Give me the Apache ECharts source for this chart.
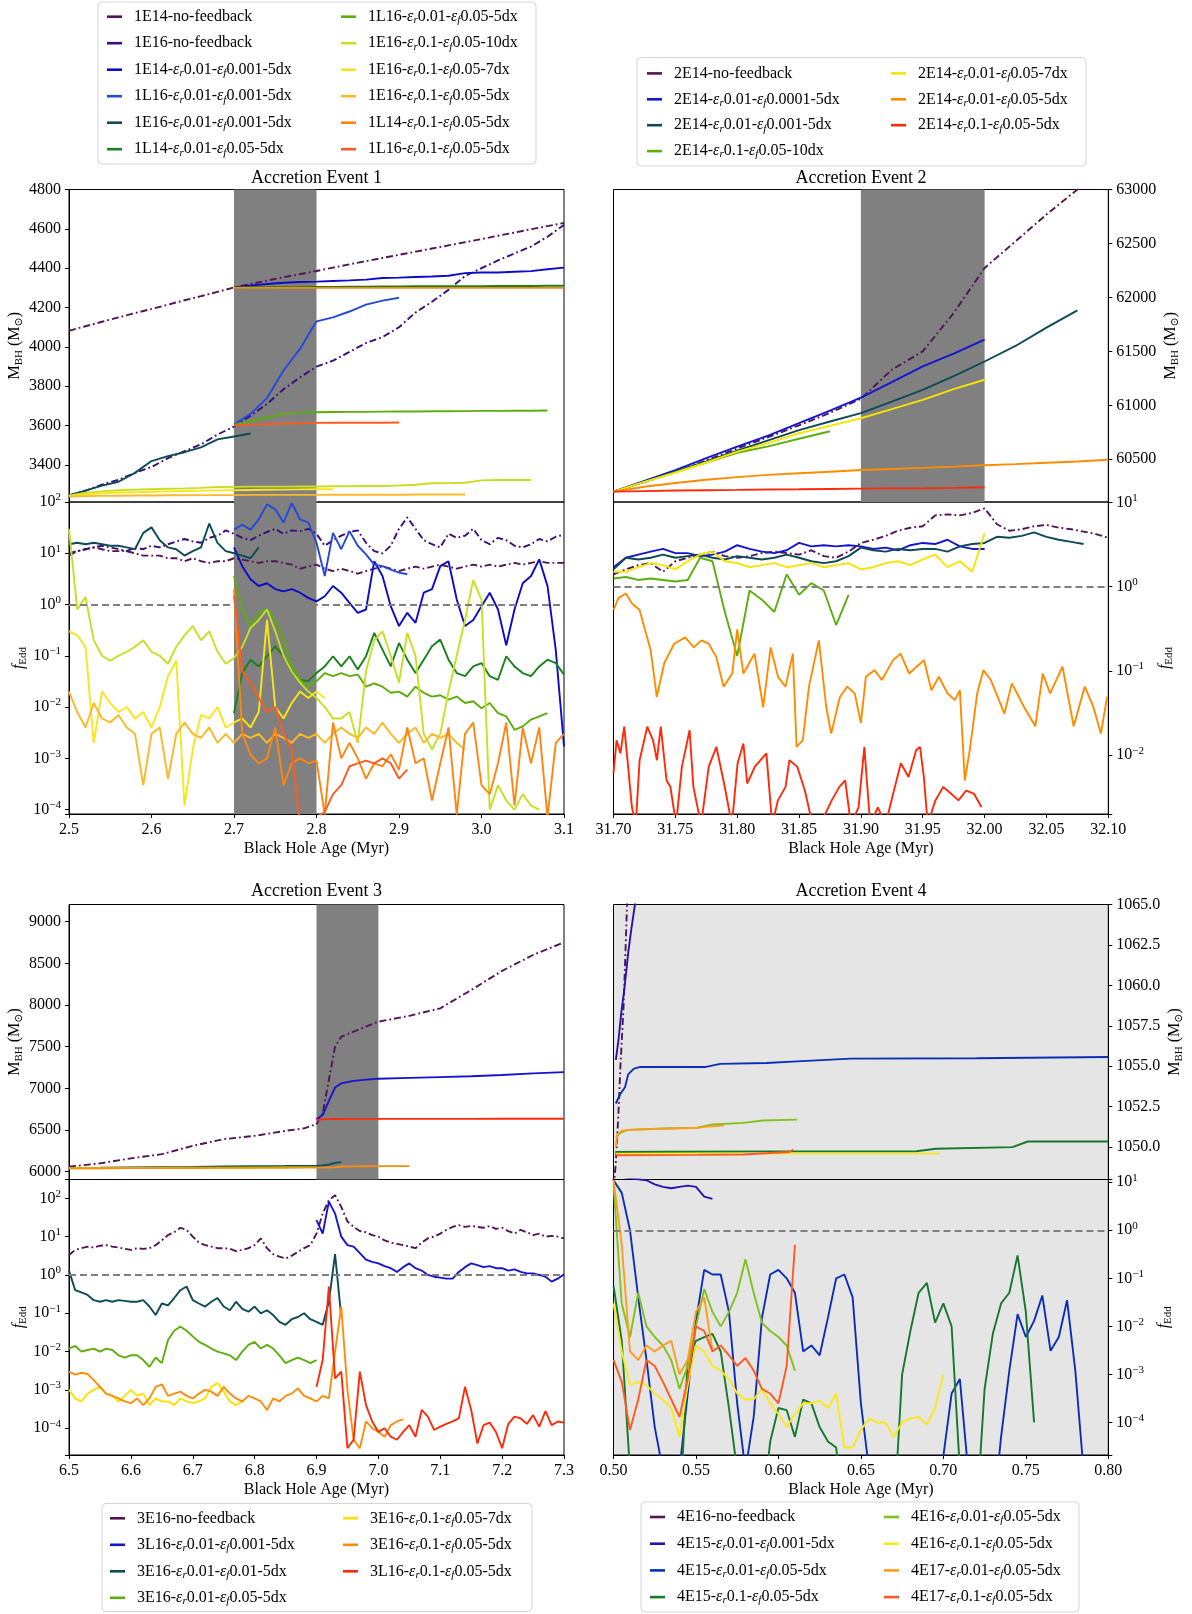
<!DOCTYPE html>
<html><head><meta charset="utf-8">
<script src="https://cdn.jsdelivr.net/npm/echarts@6/dist/echarts.min.js"></script>
<style>html,body{margin:0;padding:0;background:#fff}#c{width:1192px;height:1614px}</style>
</head><body><div id="c"></div>
<script>
const FONT = 'Liberation Serif, DejaVu Serif, serif';

// ---------------- Panel 1 : Accretion Event 1 ----------------
const P1_MX = [2.50,2.52,2.54,2.56,2.58,2.60,2.62,2.64,2.66,2.68,2.70,2.72,2.74,2.76,2.78,2.80,2.82,2.84,2.86,2.88,2.90,2.92,2.94,2.96,2.98,3.00,3.02,3.04,3.06,3.08,3.10];
const P1_FX = [2.50,2.51,2.52,2.53,2.54,2.55,2.56,2.57,2.58,2.59,2.60,2.61,2.62,2.63,2.64,2.65,2.66,2.67,2.68,2.69,2.70,2.71,2.72,2.73,2.74,2.75,2.76,2.77,2.78,2.79,2.80,2.81,2.82,2.83,2.84,2.85,2.86,2.87,2.88,2.89,2.90,2.91,2.92,2.93,2.94,2.95,2.96,2.97,2.98,2.99,3.00,3.01,3.02,3.03,3.04,3.05,3.06,3.07,3.08,3.09,3.10];
const P1_XTICKS = [2.5,2.6,2.7,2.8,2.9,3.0,3.1];
const P1_MTICKS = [3400,3600,3800,4000,4200,4400,4600,4800];
const P1_SPAN = [2.7, 2.8];

const M1_E14_NOFB = [4082,4105,4128,4150,4172,4193,4215,4237,4258,4280,4302,4320,4337,4354,4370,4386,4403,4420,4436,4452,4468,4484,4500,4516,4532,4548,4565,4581,4598,4614,4630];
const M1_E16_NOFB = [3245,3270,3300,3325,3360,3390,3435,3470,3505,3555,3595,3650,3710,3785,3845,3900,3930,3975,4020,4050,4100,4175,4230,4290,4360,4400,4440,4475,4510,4560,4620];
const M1_E14_001 = [4302,4312,4320,4326,4330,4332,4335,4338,4342,4350,4352,4355,4358,4362,4375,4378,4378,4382,4385,4395,4403];
const M1_L16_001 = [3605,3660,3740,3880,3990,4130,4150,4180,4215,4235,4250];
const M1_E16_001 = [3245,3270,3295,3315,3360,3420,3445,3465,3490,3530,3545,3560];
const M1_L14_005 = [4302,4303,4303,4304,4304,4305,4305,4306,4306,4307,4307,4308,4308,4308,4309,4309,4310,4310,4310,4311,4311];
const M1_L16_005 = [3605,3622,3640,3660,3666,3668,3669,3670,3670,3671,3672,3672,3673,3673,3674,3675,3675,3676,3676,3677];
const M1_E16_10DX = [3245,3258,3266,3272,3275,3277,3279,3281,3284,3288,3289,3290,3290,3290,3291,3291,3292,3292,3293,3293,3296,3300,3307,3308,3310,3322,3324,3324,3324];
const M1_E16_7DX = [3242,3250,3256,3260,3262,3264,3266,3268,3270,3271,3272,3273,3274,3275,3276,3277,3277];
const M1_E16_5DX = [3240,3242,3243,3244,3245,3245,3246,3246,3247,3247,3247,3248,3248,3248,3248,3248,3249,3249,3249,3249,3249,3250,3250,3250,3250];
const M1_L14_01 = [4300,4300,4300,4300,4300,4300,4300,4300,4300,4300,4300,4300,4300,4300,4300,4300,4300,4300,4300,4300,4300];
const M1_L16_01 = [3600,3605,3608,3610,3612,3614,3615,3615,3615,3615,3616];

const F1_E14_NOFB = [10,11,12,13,12,11,11,11,10,9,9,9,8,8,7,8,7,6.5,7,7,8,7.5,7,6.5,7,7,6.5,6,5,5.5,6,5,4.5,5,4.5,4,4.5,5,5.5,5,4.5,5,5.5,5,5.5,6,5.5,5,5.5,6,5.5,6,5.5,6,6.5,6,6.5,7,6.5,6.5,6.5];
const F1_E16_NOFB = [9,11,12,13,14,13,12,11,13,12,14,13,15,17,19,17,16,20,22,28,24,20,18,22,26,30,24,28,27,30,24,14,18,22,26,28,16,11,10,14,30,50,30,18,15,13,24,20,22,30,18,15,20,18,14,13,15,19,17,21,23];
const F1_E14_001 = [13,5.6,3.1,2.3,2.6,2,1.8,2,1.7,1.35,1.15,1.45,2.3,1.7,1.08,0.69,0.8,7,3.6,0.93,0.38,0.69,0.44,1.7,2,5.6,7,1.25,0.38,0.5,0.93,1.7,0.8,0.16,0.8,2.6,3.6,7.6,2.3,0.13,0.0017];
const F1_L16_001 = [29,36,29,46,90,72,40,95,46,40,16,3.6,25,12,27,14,9.5,6,5.6,4.8,4.2,3.9];
const F1_E16_001 = [15,16,15,16,15,14,14,13,12,25,32,18,13,12,9,11,13,38,16,11,10,9,8,13];
const F1_L14_005 = [0.0076,0.046,0.084,0.062,0.098,0.153,0.098,0.054,0.034,0.032,0.046,0.062,0.098,0.062,0.098,0.054,0.098,0.28,0.132,0.062,0.178,0.084,0.046,0.084,0.153,0.207,0.084,0.046,0.04,0.062,0.072,0.04,0.034,0.098,0.062,0.046,0.04,0.062,0.084,0.072,0.043];
const F1_L16_005 = [3.58,0.8,0.38,0.69,0.8,0.51,0.207,0.062,0.034,0.025,0.032,0.046,0.04,0.046,0.04,0.043,0.025,0.029,0.025,0.019,0.020,0.016,0.025,0.019,0.016,0.017,0.014,0.016,0.012,0.013,0.0095,0.012,0.0076,0.0066,0.0036,0.0042,0.0057,0.0066,0.0076];
const F1_E16_10DX = [30,0.8,1.4,0.2,0.1,0.08,0.1,0.12,0.15,0.2,0.12,0.1,0.07,0.15,0.25,0.38,0.2,0.3,0.12,0.07,0.09,0.15,0.35,0.5,0.8,0.3,0.1,0.05,0.03,0.02,0.015,0.01,0.006,0.006,0.008,0.002,0.05,0.2,0.3,0.1,0.03,0.28,0.1,0.003,0.0015,0.003,0.02,0.1,0.5,3,1.25,0.0001,0.0003,0.00015,0.0001,0.0002,0.00012,0.0001];
const F1_E16_7DX = [0.3,0.25,0.15,0.002,0.02,0.012,0.008,0.01,0.006,0.008,0.004,0.01,0.04,0.08,0.00012,0.0015,0.007,0.006,0.01,0.004,0.005,0.006,0.004,0.008,0.5,0.01,0.006,0.012,0.02,0.015,0.02,0.015];
const F1_E16_5DX = [0.02,0.008,0.004,0.012,0.006,0.005,0.007,0.004,0.003,0.0003,0.003,0.004,0.0004,0.003,0.005,0.003,0.0025,0.004,0.002,0.003,0.002,0.003,0.0025,0.003,0.002,0.003,0.0025,0.002,0.003,0.0025,0.003,0.002,0.003,0.004,0.003,0.0025,0.004,0.003,0.005,0.003,0.002,0.003,0.004,0.002,0.003,0.0025,0.003,0.002,0.0015];
const F1_L14_01 = [2,0.003,0.0012,0.0008,0.001,0.004,0.0003,0.0008,0.001,0.0008,0.0009,0.00008,0.005,0.001,0.002,0.001,0.0004,0.0008,0.0007,0.0012,0.0006,0.004,0.0008,0.001,0.00015,0.0008,0.004,0.00008,0.003,0.005,0.0003,0.0002,0.0008,0.005,0.00012,0.004,0.0008,0.004,0.00007,0.002,0.003];
const F1_L16_01 = [1.5,0.05,0.03,0.015,0.008,0.01,0.003,0.0015,0.00005,0.00006,0.00007,0.00009,0.0002,0.0003,0.0007,0.0008,0.0009,0.0008,0.001,0.0008,0.0004,0.0006];

// ---------------- Panel 2 : Accretion Event 2 ----------------
const P2_MX = [31.700,31.725,31.750,31.775,31.800,31.825,31.850,31.875,31.900,31.925,31.950,31.975,32.000,32.025,32.050,32.075,32.100];
const P2_FX = [31.70,31.71,31.72,31.73,31.74,31.75,31.76,31.77,31.78,31.79,31.80,31.81,31.82,31.83,31.84,31.85,31.86,31.87,31.88,31.89,31.90,31.91,31.92,31.93,31.94,31.95,31.96,31.97,31.98,31.99,32.00,32.01,32.02,32.03,32.04,32.05,32.06,32.07,32.08,32.09,32.10];
const P2_XTICKS = [31.70,31.75,31.80,31.85,31.90,31.95,32.00,32.05,32.10];
const P2_MTICKS = [60500,61000,61500,62000,62500,63000];
const P2_SPAN = [31.90, 32.00];

const M2_NOFB = [60200,60290,60380,60490,60600,60705,60815,60930,61060,61330,61500,61855,62273,62520,62768,63000,63250];
const M2_0001 = [60200,60300,60400,60510,60617,60720,60834,60950,61072,61215,61360,61480,61608];
const M2_001 = [60200,60290,60385,60480,60580,60675,60770,60850,60927,61035,61144,61270,61406,61550,61720,61880];
const M2_10DX = [60200,60290,60380,60470,60560,60620,60690,60760];
const M2_7DX = [60200,60290,60375,60470,60571,60650,60741,60810,60880,60965,61051,61150,61237];
const M2_5DX = [60200,60245,60280,60310,60335,60355,60370,60385,60400,60410,60420,60432,60445,60455,60468,60480,60495];
const M2_01 = [60200,60205,60210,60213,60216,60220,60222,60225,60228,60230,60232,60235,60240];

const F2_NOFB = [1.4,1.6,1.8,1.9,1.5,2.0,2.2,2.4,2.6,2.3,2.2,2.3,2.5,2.6,2.5,2.4,2.7,2.3,2.2,2.6,3.3,3.6,4.0,4.6,5.0,5.2,7.0,7.2,7.0,7.5,8.5,5.5,4.6,4.8,5.2,5.4,5.0,4.8,4.5,4.2,3.8];
const F2_0001 = [1.7,2.2,2.4,2.6,2.8,2.5,2.5,2.3,2.4,2.6,3.1,2.8,2.6,2.5,2.7,3.3,3.0,3.1,3.0,3.1,3.0,2.8,2.9,2.7,3.1,3.3,3.2,3.6,3.0,2.8,2.8];
const F2_001 = [1.6,2.2,2.1,2.2,2.4,2.2,2.3,2.4,2.2,2.1,2.3,2.2,2.1,2.2,2.4,2.2,2.0,1.9,2.0,2.3,2.9,2.7,2.6,2.8,2.7,2.8,2.8,2.6,3.0,3.2,3.3,3.9,3.8,4.0,4.4,3.9,3.6,3.4,3.2];
const F2_10DX = [1.25,1.3,1.2,1.25,1.2,1.15,1.2,2.2,2.0,0.5,0.15,0.9,0.7,0.5,1.4,0.8,1.1,0.9,0.35,0.8];
const F2_7DX = [1.5,1.5,1.7,1.9,1.8,1.6,2.0,2.4,2.6,2.0,1.9,1.7,1.8,1.9,1.7,1.8,1.9,1.7,1.8,1.9,1.6,1.7,1.9,2.0,1.8,2.1,2.4,1.7,2.0,1.5,4.3];
const F2_5DX_X = [31.700,31.704,31.710,31.715,31.721,31.730,31.735,31.741,31.749,31.758,31.765,31.771,31.777,31.783,31.789,31.796,31.800,31.805,31.814,31.821,31.827,31.833,31.839,31.845,31.848,31.853,31.858,31.866,31.872,31.876,31.883,31.889,31.895,31.900,31.904,31.911,31.917,31.926,31.932,31.939,31.945,31.951,31.957,31.963,31.970,31.976,31.980,31.984,31.988,31.994,31.999,32.005,32.016,32.022,32.032,32.041,32.047,32.053,32.063,32.072,32.081,32.088,32.094,32.099];
const F2_5DX = [0.53,0.73,0.83,0.63,0.53,0.177,0.049,0.123,0.21,0.25,0.19,0.23,0.21,0.147,0.065,0.093,0.31,0.093,0.16,0.037,0.19,0.085,0.065,0.16,0.0125,0.015,0.065,0.23,0.037,0.018,0.049,0.065,0.054,0.024,0.085,0.102,0.078,0.134,0.16,0.093,0.112,0.134,0.059,0.085,0.054,0.045,0.059,0.005,0.0115,0.054,0.102,0.078,0.031,0.071,0.037,0.022,0.093,0.054,0.112,0.022,0.065,0.037,0.018,0.049];
const F2_01_X = [31.7000,31.7025,31.7056,31.7087,31.7118,31.7149,31.7180,31.7211,31.7273,31.7320,31.7351,31.7382,31.7429,31.7460,31.7506,31.7553,31.7615,31.7646,31.7708,31.7770,31.7832,31.7894,31.7957,31.8003,31.8050,31.8081,31.8143,31.8236,31.8283,31.8329,31.8391,31.8422,31.8485,31.8547,31.8609,31.8671,31.8764,31.8826,31.8873,31.8919,31.8981,31.9028,31.9075,31.9137,31.9199,31.9261,31.9323,31.9385,31.9447,31.9478,31.9509,31.9540,31.9602,31.9665,31.9727,31.9789,31.9851,31.9913,31.9975];
const F2_01 = [0.0061,0.015,0.0105,0.0218,0.0073,0.0024,0.0015,0.0087,0.0218,0.015,0.0087,0.0218,0.005,0.0042,0.0015,0.0073,0.0198,0.0042,0.0015,0.0073,0.0125,0.0046,0.0015,0.008,0.0137,0.0046,0.0073,0.0105,0.0015,0.0029,0.0042,0.0087,0.0073,0.0038,0.0015,0.0015,0.0029,0.0042,0.005,0.0015,0.0024,0.0125,0.0015,0.0024,0.0015,0.0035,0.008,0.0055,0.0115,0.0125,0.0055,0.0015,0.0029,0.0042,0.0035,0.0029,0.0038,0.0035,0.0024];

// ---------------- Panel 3 : Accretion Event 3 ----------------
const P3_MX = [6.50,6.55,6.60,6.65,6.70,6.75,6.80,6.85,6.88,6.90,6.91,6.92,6.93,6.94,6.96,6.98,7.00,7.05,7.10,7.15,7.20,7.25,7.30];
const P3_FX = [6.50,6.51,6.52,6.53,6.54,6.55,6.56,6.57,6.58,6.59,6.60,6.61,6.62,6.63,6.64,6.65,6.66,6.67,6.68,6.69,6.70,6.71,6.72,6.73,6.74,6.75,6.76,6.77,6.78,6.79,6.80,6.81,6.82,6.83,6.84,6.85,6.86,6.87,6.88,6.89,6.90,6.91,6.92,6.93,6.94,6.95,6.96,6.97,6.98,6.99,7.00,7.01,7.02,7.03,7.04,7.05,7.06,7.07,7.08,7.09,7.10,7.11,7.12,7.13,7.14,7.15,7.16,7.17,7.18,7.19,7.20,7.21,7.22,7.23,7.24,7.25,7.26,7.27,7.28,7.29,7.30];
const P3_XTICKS = [6.5,6.6,6.7,6.8,6.9,7.0,7.1,7.2,7.3];
const P3_MTICKS = [6000,6500,7000,7500,8000,8500,9000];
const P3_SPAN = [6.9, 7.0];

const M3_NOFB = [6060,6100,6160,6210,6310,6390,6430,6490,6520,6570,6700,7100,7500,7620,7680,7740,7800,7870,7960,8180,8410,8600,8752];
const M3_L16_001 = [6630,6680,6850,7010,7060,7090,7105,7115,7125,7135,7145,7160,7180,7195];
const M3_E16_001 = [6045,6048,6052,6055,6058,6062,6065,6068,6070,6072,6075,6085,6105,6115];
const M3_E16_005 = [6042,6044,6046,6048,6050,6052,6054,6056,6057,6058];
const M3_E16_7DX = [6040,6041,6042,6043,6044,6045,6046];
const M3_E16_5DX = [6040,6041,6042,6043,6044,6045,6046,6047,6048,6048,6049,6050,6052,6062,6064,6065,6066,6066];
const M3_L16_01 = [6620,6628,6630,6632,6632,6633,6633,6633,6634,6634,6634,6635,6635,6635];

const F3_NOFB = [3.3,4.5,5,5.5,5.2,5.8,6,5.5,5.2,4.8,4.5,5,4.8,5,6,8,11,13,17,15,10,7,6,5.5,5,5,4.8,4.2,4.5,5,6,9,5,3.5,3,2.7,3.2,4,5,6,12,40,90,120,60,25,18,14,13,11,10,8,7,6.5,6,5.5,5,7,9,10,12,15,18,20,18,19,18,17,19,16,17,14,12,15,13,11,12,10,10.5,10,9];
const F3_L16_001 = [27,12,82,40,10,6,5.5,3.7,2.5,2.2,2,1.7,1.5,1.2,1.6,2,1.5,1.3,1,0.9,0.85,0.8,0.8,1.2,1.6,2,1.8,1.6,1.7,1.5,1.5,1.3,1.4,1.2,1.1,1.1,1.0,0.9,0.67,0.8,1.05];
const F3_E16_001 = [1.3,0.4,0.35,0.3,0.22,0.2,0.22,0.2,0.22,0.21,0.2,0.2,0.22,0.15,0.09,0.18,0.16,0.25,0.4,0.5,0.22,0.18,0.15,0.2,0.25,0.15,0.12,0.2,0.13,0.11,0.15,0.1,0.12,0.09,0.06,0.05,0.07,0.08,0.1,0.07,0.06,0.05,0.2,3.5,0.08];
const F3_E16_005 = [0.012,0.014,0.01,0.011,0.012,0.01,0.012,0.011,0.008,0.007,0.008,0.008,0.006,0.004,0.007,0.005,0.02,0.035,0.045,0.035,0.025,0.018,0.015,0.012,0.01,0.009,0.008,0.006,0.01,0.015,0.018,0.012,0.015,0.012,0.008,0.005,0.006,0.007,0.006,0.005,0.006];
const F3_E16_7DX = [0.001,0.0006,0.0005,0.0008,0.001,0.0012,0.0008,0.0007,0.0005,0.0007,0.001,0.0007,0.0008,0.0004,0.0006,0.0005,0.0005,0.0004,0.0006,0.0005,0.00045,0.0005,0.0006,0.0012,0.0015,0.0009,0.0005,0.0004,0.0005];
const F3_E16_5DX = [0.003,0.0025,0.0028,0.0026,0.0018,0.0012,0.0008,0.0007,0.0006,0.0005,0.00045,0.0006,0.0004,0.0006,0.0012,0.0014,0.0007,0.0008,0.0009,0.0007,0.0006,0.0008,0.001,0.0009,0.0007,0.0012,0.0008,0.0006,0.0005,0.0007,0.0006,0.0005,0.0003,0.0006,0.0005,0.0007,0.0008,0.0011,0.0007,0.0006,0.0005,0.0007,0.0006,0.01,0.15,0.001,0.00005,0.00003,0.00015,0.0001,0.00008,0.00006,0.00012,0.00015,0.00017];
const F3_L16_01 = [0.0012,0.006,0.5,0.002,0.003,0.00003,0.00005,0.003,0.0004,0.00015,0.00008,0.0001,0.00006,0.00005,0.00008,0.00012,0.00006,0.0003,0.0002,0.00009,0.00011,0.00013,0.00015,0.00018,0.0012,0.0003,0.00004,0.00012,0.00014,0.00008,0.00003,0.00013,0.0002,0.00018,0.00013,0.00022,0.00011,0.00028,0.00012,0.00015,0.00014];

// ---------------- Panel 4 : Accretion Event 4 ----------------
const P4_FX = [0.500,0.505,0.510,0.515,0.520,0.525,0.530,0.535,0.540,0.545,0.550,0.555,0.560,0.565,0.570,0.575,0.580,0.585,0.590,0.595,0.600,0.605,0.610,0.615,0.620,0.625,0.630,0.635,0.640,0.645,0.650,0.655,0.660,0.665,0.670,0.675,0.680,0.685,0.690,0.695,0.700,0.705,0.710,0.715,0.720,0.725,0.730,0.735,0.740,0.745,0.750,0.755,0.760,0.765,0.770,0.775,0.780,0.785,0.790,0.795,0.800];
const P4_XTICKS = [0.50,0.55,0.60,0.65,0.70,0.75,0.80];
const P4_MTICKS = [1050,1052.5,1055,1057.5,1060,1062.5,1065];

const M4_NOFB_X = [0.5000,0.5014,0.5030,0.5042,0.5061,0.5070,0.5082,0.5100];
const M4_NOFB_Y = [1047.5,1049,1052.1,1055,1058.7,1061.3,1065,1069];
const M4_E15_0001_X = [0.5014,0.5030,0.5047,0.5065,0.5089,0.5107,0.5130,0.5150];
const M4_E15_0001_Y = [1055.4,1056.6,1058.3,1059.7,1062,1063.4,1065,1066.5];
const M4_E15_005_X = [0.5014,0.5042,0.5070,0.5089,0.5124,0.5158,0.5554,0.5647,0.5927,0.6113,0.6439,0.7200,0.8000];
const M4_E15_005_Y = [1052.7,1053.3,1053.7,1054.5,1054.85,1054.95,1054.95,1055.15,1055.2,1055.3,1055.47,1055.5,1055.57];
const M4_E15_01_X = [0.5014,0.5300,0.6000,0.6836,0.6953,0.7419,0.7512,0.8000];
const M4_E15_01_Y = [1049.7,1049.72,1049.74,1049.75,1049.9,1050.0,1050.35,1050.35];
const M4_E16_001_X = [0.5014,0.5042,0.5089,0.5300,0.5508,0.5601,0.5787,0.5904,0.6113];
const M4_E16_001_Y = [1050.6,1050.9,1051.07,1051.15,1051.2,1051.4,1051.5,1051.65,1051.7];
const M4_E16_01_X = [0.5014,0.6000,0.6980];
const M4_E16_01_Y = [1049.6,1049.6,1049.6];
const M4_E17_001_X = [0.5014,0.5023,0.5047,0.5089,0.5508,0.5554,0.5670];
const M4_E17_001_Y = [1050.0,1050.8,1051.0,1051.07,1051.2,1051.25,1051.35];
const M4_E17_01_X = [0.5014,0.5508,0.5787,0.6067,0.6090];
const M4_E17_01_Y = [1049.5,1049.52,1049.55,1049.7,1049.85];

const F4_NOFB = [11,200];
const F4_E15_0001 = [14,13,12,11.5,11,9,8,7.5,8,8.5,8,5,4.5];
const F4_E15_005 = [11,6,1,0.04,0.002,0.00008,0.00001,0.00001,0.00001,0.0004,0.013,0.15,0.12,0.12,0.02,0.00025,0.00001,0.00013,0.015,0.12,0.15,0.1,0.05,0.003,0.004,0.0025,0.015,0.1,0.12,0.04,0.00025,0.00001,0.000001,0.000001,0.000001,0.000001,0.000001,0.000001,0.000001,0.000001,0.00002,0.0004,0.0008,0.00001,0.000001,0.000001,0.000001,0.00005,0.0012,0.018,0.006,0.013,0.044,0.0031,0.006,0.035,0.0012,0.00001,0.000001];
const F4_E15_01 = [0.07,0.005,0.00001,0.000001,0.000001,0.000001,0.000001,0.000001,0.000001,0.002,0.005,0.006,0.007,0.003,0.0002,0.00001,0.000001,0.000001,0.000001,0.00004,0.0002,0.00018,0.00005,0.0003,0.00025,0.00008,0.00004,0.00003,0.000001,0.000001,0.000001,0.000001,0.000001,0.000001,0.000001,0.001,0.008,0.05,0.08,0.012,0.03,0.01,0.00001,0.000001,0.000001,0.0005,0.007,0.03,0.05,0.3,0.02,0.0001];
const F4_E16_001 = [9,0.03,0.006,0.05,0.01,0.006,0.004,0.002,0.0005,0.0015,0.01,0.06,0.02,0.01,0.02,0.05,0.25,0.05,0.012,0.008,0.006,0.004,0.0012];
const F4_E16_01 = [0.03,0.003,0.0006,0.0007,0.0006,0.0004,0.0003,0.0002,0.00005,0.0006,0.004,0.003,0.0015,0.0012,0.0008,0.0004,0.0003,0.0003,0.0005,0.00025,0.00015,0.00008,0.00015,0.00025,0.00025,0.00028,0.0002,0.0004,0.00003,0.00003,0.00007,0.00012,0.0001,0.0001,0.00005,0.0001,0.00012,0.00013,0.00009,0.0002,0.001];
const F4_E17_001 = [11,0.5,0.003,0.002,0.004,0.003,0.004,0.005,0.001,0.002,0.02,0.04,0.003];
const F4_E17_01 = [0.002,0.0007,0.00007,0.0003,0.002,0.0015,0.0007,0.0003,0.00013,0.0008,0.01,0.008,0.003,0.004,0.0025,0.0015,0.0022,0.0012,0.0005,0.0004,0.00025,0.0015,0.5];

const EDD_LIMIT = 1;

// ---------------- helpers ----------------
function seg(X, x0, vals) {
  const i0 = X.findIndex(x => Math.abs(x - x0) < 1e-9);
  return vals.map((v, i) => [X[i0 + i], v]);
}
function pairs(xs, ys) { return xs.map((x, i) => [x, ys[i]]); }

const PURPLE = '#511457', INDIGO = '#3a0d7c', TEAL = '#0d4a56';
const panels = [
  { mg: 0, fg: 1, span: P1_SPAN, fspan: true, series: [
    {n:'1E14-no-feedback', c:PURPLE, d:1, m:seg(P1_MX,2.50,M1_E14_NOFB), f:seg(P1_FX,2.50,F1_E14_NOFB)},
    {n:'1E16-no-feedback', c:INDIGO, d:1, m:seg(P1_MX,2.50,M1_E16_NOFB), f:seg(P1_FX,2.50,F1_E16_NOFB)},
    {n:'1E14-εr0.01-εf0.001-5dx', c:'#0c0cc8', m:seg(P1_MX,2.70,M1_E14_001), f:seg(P1_FX,2.70,F1_E14_001)},
    {n:'1L16-εr0.01-εf0.001-5dx', c:'#2448dc', m:seg(P1_MX,2.70,M1_L16_001), f:seg(P1_FX,2.70,F1_L16_001)},
    {n:'1E16-εr0.01-εf0.001-5dx', c:TEAL, m:seg(P1_MX,2.50,M1_E16_001), f:seg(P1_FX,2.50,F1_E16_001)},
    {n:'1L14-εr0.01-εf0.05-5dx', c:'#17821a', m:seg(P1_MX,2.70,M1_L14_005), f:seg(P1_FX,2.70,F1_L14_005)},
    {n:'1L16-εr0.01-εf0.05-5dx', c:'#5cae0c', m:seg(P1_MX,2.70,M1_L16_005), f:seg(P1_FX,2.70,F1_L16_005)},
    {n:'1E16-εr0.1-εf0.05-10dx', c:'#c6e021', m:seg(P1_MX,2.50,M1_E16_10DX), f:seg(P1_FX,2.50,F1_E16_10DX)},
    {n:'1E16-εr0.1-εf0.05-7dx', c:'#f8e61a', m:seg(P1_MX,2.50,M1_E16_7DX), f:seg(P1_FX,2.50,F1_E16_7DX)},
    {n:'1E16-εr0.1-εf0.05-5dx', c:'#fbb829', m:seg(P1_MX,2.50,M1_E16_5DX), f:seg(P1_FX,2.50,F1_E16_5DX)},
    {n:'1L14-εr0.1-εf0.05-5dx', c:'#ff8510', m:seg(P1_MX,2.70,M1_L14_01), f:seg(P1_FX,2.70,F1_L14_01)},
    {n:'1L16-εr0.1-εf0.05-5dx', c:'#ff5a1f', m:seg(P1_MX,2.70,M1_L16_01), f:seg(P1_FX,2.70,F1_L16_01)}
  ]},
  { mg: 2, fg: 3, span: P2_SPAN, fspan: false, series: [
    {n:'2E14-no-feedback', c:PURPLE, d:1, m:seg(P2_MX,31.700,M2_NOFB), f:seg(P2_FX,31.70,F2_NOFB)},
    {n:'2E14-εr0.01-εf0.0001-5dx', c:'#1414d2', m:seg(P2_MX,31.700,M2_0001), f:seg(P2_FX,31.70,F2_0001)},
    {n:'2E14-εr0.01-εf0.001-5dx', c:TEAL, m:seg(P2_MX,31.700,M2_001), f:seg(P2_FX,31.70,F2_001)},
    {n:'2E14-εr0.1-εf0.05-10dx', c:'#5cae0c', m:seg(P2_MX,31.700,M2_10DX), f:seg(P2_FX,31.70,F2_10DX)},
    {n:'2E14-εr0.01-εf0.05-7dx', c:'#f8e400', m:seg(P2_MX,31.700,M2_7DX), f:seg(P2_FX,31.70,F2_7DX)},
    {n:'2E14-εr0.01-εf0.05-5dx', c:'#ff8c00', m:seg(P2_MX,31.700,M2_5DX), f:pairs(F2_5DX_X,F2_5DX)},
    {n:'2E14-εr0.1-εf0.05-5dx', c:'#ff2a0a', m:seg(P2_MX,31.700,M2_01), f:pairs(F2_01_X,F2_01)}
  ]},
  { mg: 4, fg: 5, span: P3_SPAN, fspan: false, series: [
    {n:'3E16-no-feedback', c:PURPLE, d:1, m:seg(P3_MX,6.50,M3_NOFB), f:seg(P3_FX,6.50,F3_NOFB)},
    {n:'3L16-εr0.01-εf0.001-5dx', c:'#1414d2', m:seg(P3_MX,6.90,M3_L16_001), f:seg(P3_FX,6.90,F3_L16_001)},
    {n:'3E16-εr0.01-εf0.01-5dx', c:TEAL, m:seg(P3_MX,6.50,M3_E16_001), f:seg(P3_FX,6.50,F3_E16_001)},
    {n:'3E16-εr0.01-εf0.05-5dx', c:'#5cae0c', m:seg(P3_MX,6.50,M3_E16_005), f:seg(P3_FX,6.50,F3_E16_005)},
    {n:'3E16-εr0.1-εf0.05-7dx', c:'#f8e400', m:seg(P3_MX,6.50,M3_E16_7DX), f:seg(P3_FX,6.50,F3_E16_7DX)},
    {n:'3E16-εr0.1-εf0.05-5dx', c:'#ff8c0a', m:seg(P3_MX,6.50,M3_E16_5DX), f:seg(P3_FX,6.50,F3_E16_5DX)},
    {n:'3L16-εr0.1-εf0.05-5dx', c:'#ff2a0a', m:seg(P3_MX,6.90,M3_L16_01), f:seg(P3_FX,6.90,F3_L16_01)}
  ]},
  { mg: 6, fg: 7, span: null, series: [
    {n:'4E16-no-feedback', c:PURPLE, d:1, m:pairs(M4_NOFB_X,M4_NOFB_Y), f:seg(P4_FX,0.500,F4_NOFB)},
    {n:'4E15-εr0.01-εf0.001-5dx', c:'#2812b0', m:pairs(M4_E15_0001_X,M4_E15_0001_Y), f:seg(P4_FX,0.500,F4_E15_0001)},
    {n:'4E15-εr0.01-εf0.05-5dx', c:'#0b2fb4', m:pairs(M4_E15_005_X,M4_E15_005_Y), f:seg(P4_FX,0.500,F4_E15_005)},
    {n:'4E15-εr0.1-εf0.05-5dx', c:'#15782a', m:pairs(M4_E15_01_X,M4_E15_01_Y), f:seg(P4_FX,0.500,F4_E15_01)},
    {n:'4E16-εr0.01-εf0.05-5dx', c:'#7ec31a', m:pairs(M4_E16_001_X,M4_E16_001_Y), f:seg(P4_FX,0.500,F4_E16_001)},
    {n:'4E16-εr0.1-εf0.05-5dx', c:'#fbe81a', m:pairs(M4_E16_01_X,M4_E16_01_Y), f:seg(P4_FX,0.500,F4_E16_01)},
    {n:'4E17-εr0.01-εf0.05-5dx', c:'#ff9c1a', m:pairs(M4_E17_001_X,M4_E17_001_Y), f:seg(P4_FX,0.500,F4_E17_001)},
    {n:'4E17-εr0.1-εf0.05-5dx', c:'#ff5a1f', m:pairs(M4_E17_01_X,M4_E17_01_Y), f:seg(P4_FX,0.500,F4_E17_01)}
  ]}
];

const DASHDOT = [7, 3, 1.8, 3];
const series = [];
panels.forEach(p => {
  p.series.forEach((s, i) => {
    const base = {type:'line', name:s.n, showSymbol:false, symbol:'none', clip:true, animation:false, z:3,
      lineStyle:{color:s.c, width:1.9, type: s.d ? DASHDOT : 'solid'}, itemStyle:{color:s.c}, emphasis:{disabled:true}};
    const ms = Object.assign({}, base, {xAxisIndex:p.mg, yAxisIndex:p.mg, data:s.m});
    const fs = Object.assign({}, base, {xAxisIndex:p.fg, yAxisIndex:p.fg, data:s.f});
    if (i === 0) {
      if (p.span) ms.markArea = {silent:true, z:1, itemStyle:{color:'#808080', opacity:1}, data:[[{xAxis:p.span[0]},{xAxis:p.span[1]}]]};
      if (p.span && p.fspan) fs.markArea = {silent:true, z:1, itemStyle:{color:'#808080', opacity:1}, data:[[{xAxis:p.span[0]},{xAxis:p.span[1]}]]};
      fs.markLine = {silent:true, symbol:['none','none'], label:{show:false}, animation:false,
        lineStyle:{type:[7,4], color:'#808080', width:1.8}, data:[{yAxis:EDD_LIMIT}]};
    }
    series.push(ms, fs);
  });
});

// ---------------- axes ----------------
const L = 69, R = 613.5, W = 495, W2 = 494.8;
const grid = [
  {left:L, top:189.5, width:W, height:312.5},
  {left:L, top:502, width:W, height:312},
  {left:R, top:189.5, width:W2, height:312.5},
  {left:R, top:502, width:W2, height:312},
  {left:L, top:904.5, width:W, height:275},
  {left:L, top:1179.5, width:W, height:275.5},
  {left:R, top:904.5, width:W2, height:275, backgroundColor:'#e5e5e5'},
  {left:R, top:1179.5, width:W2, height:275.5, backgroundColor:'#e5e5e5'}
].map(g => Object.assign({show:true, borderColor:'#000', borderWidth:1, backgroundColor:'transparent', containLabel:false}, g));

const LBL = {fontFamily:FONT, fontSize:16, color:'#000'};
const subRich = {s:{fontFamily:FONT, fontSize:11, lineHeight:10, verticalAlign:'bottom', color:'#000'},
                 i:{fontFamily:FONT, fontSize:16, fontStyle:'italic', lineHeight:20, color:'#000'}};
function xAx(gi, ext, ticks, dec, labels) {
  const a = {type:'value', gridIndex:gi, min:ext[0], max:ext[1], splitLine:{show:false}};
  if (!labels) {
    Object.assign(a, {axisLine:{show:false}, axisTick:{show:false}, axisLabel:{show:false}});
  } else {
    Object.assign(a, {
      axisLine:{show:true, onZero:false, lineStyle:{color:'#000', width:1}},
      axisTick:{show:true, inside:false, length:4, customValues:ticks, lineStyle:{color:'#000'}},
      axisLabel:Object.assign({customValues:ticks, margin:8, formatter:v => Number(v).toFixed(dec)}, LBL),
      name:'Black Hole Age (Myr)', nameLocation:'middle', nameGap:23,
      nameTextStyle:Object.assign({lineHeight:20}, LBL)
    });
  }
  return a;
}
function massY(gi, pos, ext, ticks, dec, gap) {
  return {type:'value', gridIndex:gi, position:pos, min:ext[0], max:ext[1], splitLine:{show:false},
    axisLine:{show:true, onZero:false, lineStyle:{color:'#000'}},
    axisTick:{show:true, inside:false, length:4, customValues:ticks, lineStyle:{color:'#000'}},
    axisLabel:Object.assign({customValues:ticks, margin:8, formatter:v => Number(v).toFixed(dec)}, LBL),
    name:'M{s|BH} (M{s|⊙})', nameLocation:'middle', nameRotate:90, nameGap:gap,
    nameTextStyle:Object.assign({lineHeight:20, rich:subRich}, LBL)};
}
function pow10Label(v) {
  const e = Math.log10(v);
  const r = Math.round(e);
  if (Math.abs(e - r) > 1e-6) return '';
  return '10{p|' + (r < 0 ? '\u2212' + (-r) : r) + '}';
}
function logY(gi, pos, ext, gap) {
  return {type:'log', logBase:10, gridIndex:gi, position:pos, min:ext[0], max:ext[1], splitLine:{show:false},
    axisLine:{show:true, onZero:false, lineStyle:{color:'#000'}},
    axisTick:{show:true, inside:false, length:4, lineStyle:{color:'#000'}},
    axisLabel:Object.assign({margin:8, lineHeight:20, formatter:pow10Label,
      rich:{p:{fontFamily:FONT, fontSize:11, lineHeight:11, verticalAlign:'top', color:'#000'}}}, LBL),
    name:'{i|f}{s|Edd}', nameLocation:'middle', nameRotate:90, nameGap:gap,
    nameTextStyle:Object.assign({lineHeight:20, rich:subRich}, LBL)};
}

const xAxis = [
  xAx(0,[2.5,3.1],P1_XTICKS,1,false), xAx(1,[2.5,3.1],P1_XTICKS,1,true),
  xAx(2,[31.70,32.10],P2_XTICKS,2,false), xAx(3,[31.70,32.10],P2_XTICKS,2,true),
  xAx(4,[6.5,7.3],P3_XTICKS,1,false), xAx(5,[6.5,7.3],P3_XTICKS,1,true),
  xAx(6,[0.50,0.80],P4_XTICKS,2,false), xAx(7,[0.50,0.80],P4_XTICKS,2,true)
];
const yAxis = [
  massY(0,'left',[3212,4800],P1_MTICKS,0,42), logY(1,'left',[8.2e-5,100],40),
  massY(2,'right',[60104,63000],P2_MTICKS,0,52), logY(3,'right',[2.0e-3,10.1],46),
  massY(4,'left',[5906,9206],P3_MTICKS,0,42), logY(5,'left',[2.0e-5,310],40),
  massY(6,'right',[1048,1065],P4_MTICKS,1,56), logY(7,'right',[2.1e-5,11.4],45.5)
];

// ---------------- legends ----------------
function fmtName(n) { return n.replace(/ε([rf])/g, '{e|ε}{s|$1}'); }
const legRich = {
  e:{fontFamily:FONT, fontSize:16, fontStyle:'italic', lineHeight:18, color:'#000'},
  s:{fontFamily:FONT, fontSize:11, fontStyle:'italic', lineHeight:10, verticalAlign:'bottom', color:'#000'}
};
function legendCol(names, left, top, gap) {
  return {orient:'vertical', left, top, itemGap:gap, itemWidth:15, itemHeight:2.6, icon:'rect',
    selectedMode:false, padding:0, data:names, formatter:fmtName,
    textStyle:{fontFamily:FONT, fontSize:16, color:'#000', lineHeight:18, padding:[0,0,0,7], rich:legRich}};
}
const legend = [
  legendCol(['1E14-no-feedback','1E16-no-feedback','1E14-εr0.01-εf0.001-5dx','1L16-εr0.01-εf0.001-5dx','1E16-εr0.01-εf0.001-5dx','1L14-εr0.01-εf0.05-5dx'], 107, 7.7, 8.5),
  legendCol(['1L16-εr0.01-εf0.05-5dx','1E16-εr0.1-εf0.05-10dx','1E16-εr0.1-εf0.05-7dx','1E16-εr0.1-εf0.05-5dx','1L14-εr0.1-εf0.05-5dx','1L16-εr0.1-εf0.05-5dx'], 341, 7.7, 8.5),
  legendCol(['2E14-no-feedback','2E14-εr0.01-εf0.0001-5dx','2E14-εr0.01-εf0.001-5dx','2E14-εr0.1-εf0.05-10dx'], 647, 64.4, 7.9),
  legendCol(['2E14-εr0.01-εf0.05-7dx','2E14-εr0.01-εf0.05-5dx','2E14-εr0.1-εf0.05-5dx'], 891, 64.4, 7.9),
  legendCol(['3E16-no-feedback','3L16-εr0.01-εf0.001-5dx','3E16-εr0.01-εf0.01-5dx','3E16-εr0.01-εf0.05-5dx'], 110, 1509.3, 8.5),
  legendCol(['3E16-εr0.1-εf0.05-7dx','3E16-εr0.1-εf0.05-5dx','3L16-εr0.1-εf0.05-5dx'], 343, 1509.3, 8.5),
  legendCol(['4E16-no-feedback','4E15-εr0.01-εf0.001-5dx','4E15-εr0.01-εf0.05-5dx','4E15-εr0.1-εf0.05-5dx'], 650, 1508, 8.7),
  legendCol(['4E16-εr0.01-εf0.05-5dx','4E16-εr0.1-εf0.05-5dx','4E17-εr0.01-εf0.05-5dx','4E17-εr0.1-εf0.05-5dx'], 884, 1508, 8.7)
];
const boxStyle = {fill:'none', stroke:'#d4d4d4', lineWidth:1};
const graphic = [
  {type:'rect', shape:{x:98, y:2, width:438, height:162, r:4}, style:boxStyle, silent:true},
  {type:'rect', shape:{x:637, y:57.5, width:449, height:108.5, r:4}, style:boxStyle, silent:true},
  {type:'rect', shape:{x:102, y:1503.5, width:430, height:108, r:4}, style:boxStyle, silent:true},
  {type:'rect', shape:{x:641, y:1502, width:438, height:110, r:4}, style:boxStyle, silent:true}
];

const TS = {fontFamily:FONT, fontSize:18, fontWeight:'normal', color:'#000'};
const title = [
  {text:'Accretion Event 1', left:316.5, top:169, textAlign:'center', padding:0, textStyle:TS},
  {text:'Accretion Event 2', left:861, top:169, textAlign:'center', padding:0, textStyle:TS},
  {text:'Accretion Event 3', left:316.5, top:882, textAlign:'center', padding:0, textStyle:TS},
  {text:'Accretion Event 4', left:861, top:882, textAlign:'center', padding:0, textStyle:TS}
];

const chart = echarts.init(document.getElementById('c'), null, {renderer:'canvas'});
chart.setOption({
  animation:false, backgroundColor:'#fff', textStyle:{fontFamily:FONT},
  title, legend, graphic, grid, xAxis, yAxis, series
});
</script></body></html>
